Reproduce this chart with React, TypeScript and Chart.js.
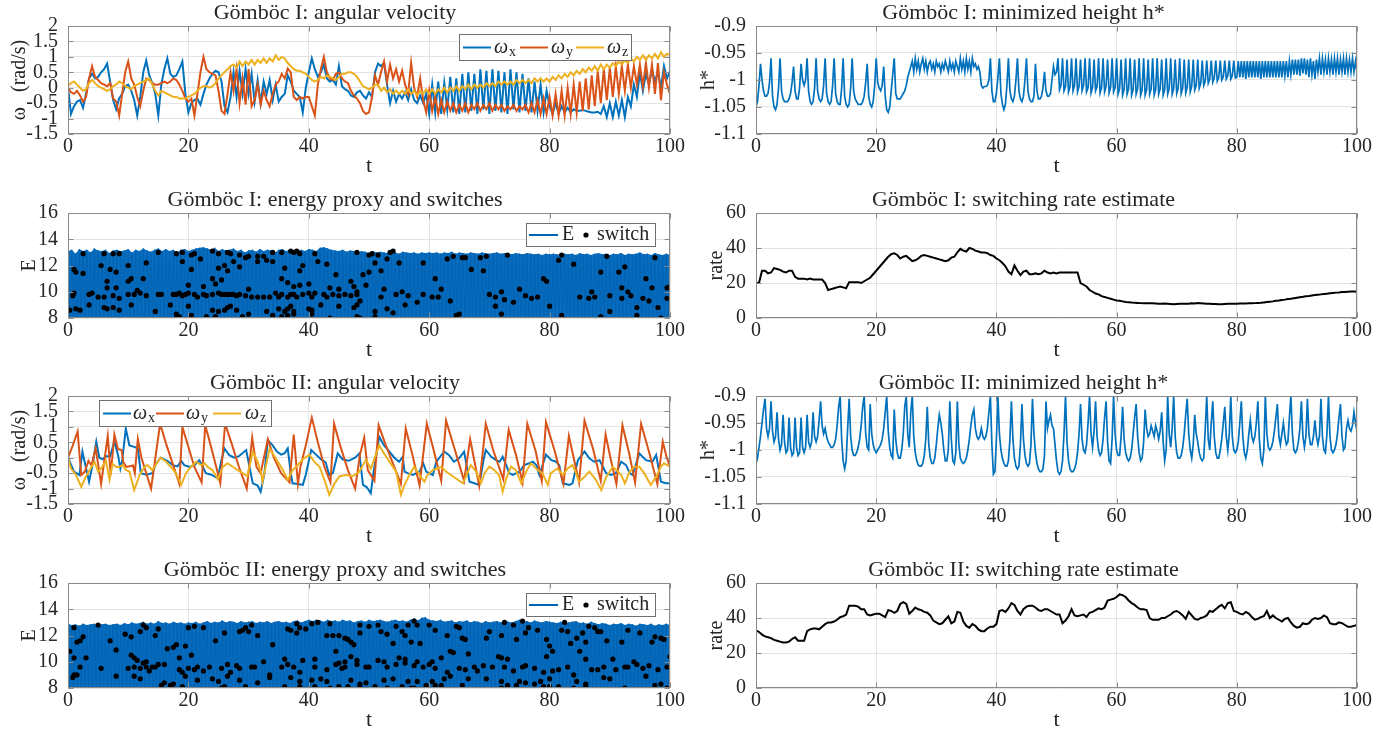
import React, { useEffect, useRef } from 'react';
import { Chart, registerables } from 'chart.js';

Chart.register(...registerables);

const FONT = "'Liberation Serif', 'Times New Roman', serif";
const INK = '#262626';
const GRID = '#e3e3e3';
const FRAME = '#8a8a8a';
const C_BLUE = '#0072BD';
const C_ORANGE = '#D95319';
const C_YELLOW = '#EDB120';
const C_E = '#0064B6';
const C_E_FILL = '#0a6cbc';

// ---------- tick values ----------
const tTicks = [0, 20, 40, 60, 80, 100];
const omegaTicks = [-1.5, -1, -0.5, 0, 0.5, 1, 1.5, 2];
const hTicks = [-1.1, -1.05, -1, -0.95, -0.9];
const eTicks = [8, 10, 12, 14, 16];
const rateTicks = [0, 20, 40, 60];

// ---------- Gömböc I angular velocity (t = 0, 0.5, ..., 100) ----------
const G1_DT = 0.5;
const g1Wx = [
  0, -0.85, -0.6, -0.45, -0.4, -0.65, -0.2, 0.3, 0.45, 0.3, 0.35, 0.5, 0.6, 0.78, 0.2, -0.4, -0.7, -0.35, -0.2, 0.05,
  0.1, -0.1, -0.4, -0.9, -0.3, 0.5, 0.88, 0.4, 0.15, -0.2, -0.9, 0.1, 0.6, 0.95, 0.45, 0.35, 0.4, 0.6, 0.85, -0.2,
  -0.8, -0.5, -0.4, -0.35, -0.55, -0.2, 0.1, 0.3, 0.45, 0.55, 0.5, 0.2, -0.6, -0.8, -0.3, 0.5, -0.3, 0.55, -0.2, 0.6,
  -0.2, 0.45, -0.45, 0.25, -0.5, 0.2, -0.2, 0.25, -0.4, 0.1, -0.45, -0.3, -0.2, 0.4, 0.2, -0.1, -0.2, -0.3, -0.8, 0,
  0.5, 0.95, 0.6, 0.35, 0.5, 0.75, 0.3, 0.2, 0.25, 0.1, 0.7, 0.05, -0.05, -0.1, -0.25, -0.3, -0.15, -0.1, -0.25, -0.35,
  -0.15, -0.3, 0.5, 0.78, 0.7, 0.8, 0.1, -0.5, -0.1, -0.45, -0.2, -0.35, -0.15, -0.4, -0.05, -0.4, -0.5, -0.25, -0.5, -0.2,
  -0.85, 0.1, -0.8, 0.2, -0.85, 0.15, -0.7, 0.35, -0.8, 0.3, -0.85, 0.45, -0.8, 0.5, -0.75, 0.45, -0.85, 0.6, -0.7, 0.55,
  -0.85, 0.6, -0.75, 0.55, -0.8, 0.5, -0.85, 0.6, -0.7, 0.5, -0.8, 0.45, -0.75, 0.3, -0.8, 0.2, -0.75, 0.1, -0.8, -0.1,
  -0.6, -0.85, -0.5, -0.85, -0.6, -0.8, -0.65, -0.8, -0.7, -0.75, -0.75, -0.72, -0.75, -0.78, -0.8, -0.8, -0.78, -0.85, -0.6, -0.95,
  -0.5, -0.95, -0.45, -0.9, -0.4, -0.95, -0.3, -0.6, 0.1, -0.3, 0.5, -0.1, 0.45, 0.1, 0.6, 0.2, 0.5, 0.0, 0.7, 0.3, 0.55,
];
const g1Wy = [
  0, -0.15, -0.2, -0.1, -0.25, -0.45, -0.3, 0.3, 0.7, 0.35, 0.25, 0.15, 0.1, 0.05, 0.15, -0.35, -0.45, -0.9, -0.2, 0.5,
  0.85, 0.3, 0.1, -0.3, -0.6, -0.1, 0.3, 0.25, 0.15, 0.1, 0.1, 0.15, 0.2, 0.15, 0.2, 0.3, 0.25, 0.1, -0.1, -0.35,
  -0.45, -0.35, -0.9, -0.2, 0.5, 1.0, 0.6, 0.5, 0.45, 0.4, -0.1, -0.75, -0.85, -0.2, 0.5, -0.1, 0.6, -0.5, 0.3, -0.55,
  0.6, -0.6, -0.4, 0.1, -0.55, -0.1, -0.4, -0.6, -0.2, 0.1, 0.2, 0.45, 0.3, 0.62, 0.5, -0.3, -0.4, -0.3, -0.35, -0.3,
  -0.3, -0.6, -0.9, 0.1, 0.6, 1.0, 0.5, 0.3, 0.25, 0.45, 0.5, 0.3, 0.2, 0.15, -0.1, -0.25, -0.35, -0.5, -0.75, -0.85,
  -0.8, -0.3, 0.4, 0.1, 0.5, 0.85, 0.2, 0.75, 0.3, 0.6, 0.2, 0.55, 0.1, -0.2, 0.8, 0.0, -0.3, 0.3, -0.4, -0.8,
  -0.1, -0.75, -0.3, -0.85, -0.4, -0.8, -0.45, -0.75, -0.5, -0.8, -0.55, -0.75, -0.5, -0.8, -0.55, -0.7, -0.5, -0.75, -0.55, -0.7,
  -0.5, -0.75, -0.55, -0.7, -0.55, -0.75, -0.6, -0.7, -0.55, -0.75, -0.6, -0.7, -0.55, -0.8, -0.5, -0.8, -0.4, -0.85, -0.35, -0.85,
  -0.3, -0.9, -0.2, -0.9, -0.1, -0.9, 0.0, -0.85, 0.1, -0.8, 0.2, -0.75, 0.3, -0.7, 0.4, -0.6, 0.55, -0.5, 0.6, -0.4,
  0.65, -0.3, 0.7, -0.2, 0.7, -0.1, 0.75, 0.0, 0.7, 0.1, 0.75, 0.05, 0.8, 0.0, 0.75, -0.2, 0.8, -0.4, 0.5, 0.1, -0.2,
];
const g1Wz = [
  0.05, 0.15, 0.2, 0.1, 0.0, -0.1, -0.05, 0.15, 0.25, 0.15, 0.05, 0.0, -0.05, -0.1, -0.05, 0.05, 0.1, 0.2, 0.15, 0.05,
  0.0, -0.05, 0.05, 0.1, 0.15, 0.2, 0.25, 0.3, 0.1, -0.1, -0.25, -0.1, -0.15, -0.2, -0.25, -0.3, -0.3, -0.35, -0.35, -0.35,
  -0.3, -0.25, -0.2, -0.1, 0.0, 0.05, 0.05, 0.0, 0.05, 0.15, 0.3, 0.4, 0.5, 0.6, 0.7, 0.75, 0.65, 0.85, 0.7, 0.85,
  0.75, 0.9, 0.75, 0.9, 0.8, 0.95, 0.8, 0.95, 0.85, 1.05, 0.9, 1.0, 0.95, 0.8, 0.7, 0.6, 0.55, 0.55, 0.5, 0.45,
  0.35, 0.25, 0.2, 0.25, 0.35, 0.3, 0.4, 0.35, 0.3, 0.25, 0.35, 0.45, 0.45, 0.5, 0.5, 0.45, 0.35, 0.2, 0.05, 0.0,
  -0.05, 0.0, 0.1, 0.1, -0.1, 0.0, -0.15, -0.05, -0.2, -0.1, -0.2, -0.1, -0.2, -0.05, -0.2, -0.1, -0.25, -0.1, -0.2, -0.05,
  -0.2, -0.05, -0.2, -0.05, -0.15, 0.0, -0.15, 0.0, -0.1, 0.05, -0.1, 0.05, -0.05, 0.1, -0.05, 0.1, 0.0, 0.1, 0.0, 0.15,
  0.05, 0.15, 0.05, 0.2, 0.1, 0.2, 0.1, 0.2, 0.1, 0.25, 0.15, 0.25, 0.15, 0.25, 0.15, 0.3, 0.2, 0.3, 0.2, 0.3,
  0.2, 0.35, 0.25, 0.4, 0.3, 0.45, 0.35, 0.5, 0.4, 0.55, 0.45, 0.6, 0.5, 0.65, 0.55, 0.7, 0.55, 0.75, 0.6, 0.75,
  0.65, 0.8, 0.7, 0.85, 0.75, 0.9, 0.8, 0.95, 0.85, 1.0, 0.9, 1.05, 0.9, 1.05, 0.95, 1.1, 0.95, 1.15, 1.0, 1.1, 1.05,
];

// ---------- Gömböc II angular velocity ([t, value] samples) ----------
const g2Wx: [number, number][] = [
  [0, 0], [1, -0.45], [1.9, -0.56], [2.4, 0.2], [2.9, -0.25], [3.5, -0.78], [4, -0.3], [4.7, 0.52], [5.2, 0.0], [5.8, -0.05],
  [6.3, 0.05], [7, 0.05], [7.7, 0.52], [8.3, 0.1], [8.7, -0.35], [9, -0.1], [9.6, 0.95], [10.2, 0.4], [11, 0.35], [11.6, 0.3],
  [12.1, -0.5], [13, -0.55], [14, -0.5], [14.6, -0.2], [15.4, 0.0], [16.5, -0.1], [17.4, -0.24], [18.2, -0.28], [18.8, -0.1], [19.3, -0.24],
  [20.2, -0.3], [21, -0.24], [21.8, -0.08], [22.4, -0.3], [22.9, -0.5], [23.8, -0.55], [24.9, -0.67], [25.4, -0.15], [26, 0.3], [26.8, 0.08],
  [27.6, 0.0], [28.4, 0.05], [29.6, 0.25], [30.1, -0.25], [30.7, -0.83], [31.5, -0.9], [32, -1.1], [32.6, -0.55], [33.2, 0.57], [34, 0.4],
  [34.7, 0.2], [35.4, 0.1], [36, 0.15], [36.5, 0.3], [37, -0.5], [37.3, -0.83], [38.2, -0.85], [39, -0.88], [39.5, -0.55], [40.4, 0.25],
  [41.2, 0.1], [42, -0.05], [42.8, -0.15], [43.4, -0.56], [44, -0.5], [44.8, 0.14], [45.6, -0.05], [46.6, -0.1], [47.7, 0.0], [48.4, 0.14],
  [49, -0.88], [49.6, -0.95], [50.3, -1.15], [50.8, -0.4], [51.7, 0.68], [52.5, 0.4], [53.4, 0.2], [54.2, 0.0], [55, -0.13], [55.6, 0.03],
  [55.9, -0.45], [56.4, -0.5], [57.3, -0.56], [58.4, -0.45], [59, -0.18], [59.5, -0.45], [60, -0.5], [60.6, -0.56], [61.2, -0.13], [62, 0.08],
  [62.5, 0.2], [63.3, 0.08], [64.1, -0.13], [64.9, -0.03], [65.8, 0.2], [66.7, -0.78], [67.5, -0.83], [68.3, -0.88], [69.1, 0.0], [69.4, 0.25],
  [70.3, 0.03], [71.1, -0.08], [71.7, -0.13], [72.2, 0.03], [72.8, -0.24], [73.3, -0.5], [73.9, -0.56], [75, -0.45], [75.8, -0.24], [76.6, -0.18],
  [77.2, -0.13], [77.8, -0.24], [78.3, -0.56], [79.4, 0.1], [80.3, -0.08], [81.1, -0.13], [81.6, -0.24], [82.2, -0.83], [83.3, -0.88], [83.8, -0.83],
  [84.7, -0.08], [85.8, 0.2], [86.6, -0.02], [87.4, -0.13], [88.3, -0.08], [89.4, -0.5], [90.2, -0.56], [91, -0.5], [91.9, -0.13], [92.7, -0.24],
  [93.3, -0.5], [93.8, -0.56], [94.9, 0.14], [96, -0.08], [97.1, -0.13], [97.7, 0.09], [98.5, -0.78], [99.3, -0.83], [100, -0.83],
];
const g2Wy: [number, number][] = [
  [0, 0], [0.8, 0.4], [1.6, 0.85], [2.2, -0.56], [2.8, -0.45], [3.4, -0.1], [3.9, -0.25], [4.6, 0.3], [5.5, -0.85], [6.6, 0.7],
  [7.1, -0.56], [7.7, 0.75], [8.3, 0.28], [8.9, 0.25], [9.2, -0.15], [9.7, -0.3], [10.8, -0.25], [11.1, -0.5], [11.6, 0.6], [12.2, 0.0],
  [13.8, -1.0], [15.3, 1.1], [16.3, 0.45], [17.4, -0.2], [18.5, -0.85], [19, 1.0], [20, 0.35], [21, -0.3], [22.2, -0.8], [22.8, 1.05],
  [23.7, 0.4], [24.5, -0.2], [25.3, -0.82], [26.1, 1.1], [27.2, 0.45], [28.4, -0.3], [29.7, -1.0], [30.6, 0.65], [31.3, -0.3], [32, -0.5],
  [33.2, 0.6], [34.2, 0.0], [35.4, -0.5], [36.8, -0.8], [37.5, 0.75], [38.2, -0.85], [38.6, -0.3], [39.5, 0.4], [40.5, 1.3], [41.5, 0.5],
  [42.6, -0.3], [43.6, -0.8], [44.2, 1.1], [45.2, 0.4], [46.5, -0.4], [47.7, -1.0], [48.5, 0.1], [49.2, 0.65], [49.8, -0.4], [50.9, -0.75],
  [51.6, 1.05], [52.8, 0.4], [54, -0.2], [55.3, -0.85], [56.1, 0.95], [57.2, 0.1], [58.4, -0.9], [59.6, 1.1], [60.8, 0.2], [62, -0.75],
  [62.8, 1.2], [64.2, 0.3], [65.8, -0.75], [66.8, 0.6], [67.5, -0.1], [68.3, -0.9], [69.4, 1.1], [70.7, 0.2], [72.3, -0.7], [73.2, 0.9],
  [74.4, 0.1], [75.5, -0.8], [76.3, 1.1], [77.7, 0.2], [78.7, -0.75], [79.4, 1.15], [80.8, 0.25], [82.3, -0.85], [83.2, 0.7], [84, 0.0],
  [84.9, -0.8], [85.8, 1.2], [87.2, 0.3], [88.5, -0.75], [89.3, 0.75], [90.1, 0.0], [91.1, -0.85], [92.1, 1.05], [93.2, 0.15], [94.2, -0.8],
  [95.2, 1.1], [96.5, 0.2], [97.9, -0.85], [98.8, 0.52], [99.4, 0.05], [100, -0.3],
];
const g2Wz: [number, number][] = [
  [0, 0], [0.5, -0.35], [1.3, -0.55], [2.2, -0.94], [3, -0.6], [3.5, -0.43], [4.4, -0.13], [5, -0.45], [5.5, -0.35], [6.3, -0.1],
  [6.9, -0.72], [7.4, -0.2], [8, -0.3], [8.5, -0.3], [9.1, -0.24], [9.6, -0.4], [10.2, -0.45], [11, -1.05], [11.9, -0.56], [12.7, -0.3],
  [13.2, -0.24], [14, -0.4], [14.9, -0.13], [15.4, 0.0], [16.3, -0.13], [17.1, -0.3], [17.9, -0.5], [18.8, -0.88], [19.6, -0.5], [20.4, -0.3],
  [21.3, -0.13], [22.1, -0.24], [22.7, -0.18], [23.2, -0.3], [24, -0.4], [24.9, -0.7], [25.7, -0.3], [26.5, -0.18], [27.4, -0.3], [28.2, -0.4],
  [29, -0.5], [29.8, -0.6], [30.7, 0.2], [31.5, -0.13], [32.1, -0.5], [32.3, -0.78], [32.9, -0.24], [33.5, 0.3], [34.6, -0.05], [35.7, -0.4],
  [36.5, -0.72], [37.3, -0.4], [37.9, -0.3], [39, -0.05], [40.1, 0.1], [40.9, -0.13], [41.8, -0.3], [42.6, -0.72], [43.4, -1.2], [44.3, -0.83],
  [45.1, -0.6], [46.2, -0.56], [47.3, -0.6], [48.4, -0.45], [49, -0.24], [49.5, -0.07], [50.3, -0.35], [51.7, 0.4], [52.5, 0.14], [53.4, -0.13],
  [54.5, -0.45], [55.3, -1.2], [55.9, -0.88], [56.7, -0.56], [57.5, -0.3], [58.4, -0.56], [59.2, -0.78], [59.7, -0.56], [60.6, -0.4], [62, -0.3],
  [62.8, -0.45], [63.9, -0.6], [65.6, -0.83], [66.2, -0.56], [66.9, -0.24], [67.8, -0.45], [68.6, -0.83], [69.2, -0.5], [70, -0.29], [70.8, -0.4],
  [71.6, -0.56], [72.2, -1.1], [72.8, -0.67], [73.6, -0.29], [74.4, -0.4], [75.3, -0.83], [76.1, -0.45], [76.9, -0.18], [78, -0.4], [78.8, -0.5],
  [79.7, -0.88], [80.2, -0.5], [81.3, -0.35], [82.2, -0.56], [83, -0.35], [83.8, -0.24], [84.4, -0.5], [84.9, -0.78], [85.8, -0.62], [86.6, -0.45],
  [87.7, -0.72], [88.6, -1.05], [89.4, -0.62], [90.5, -0.3], [91.1, -0.4], [91.9, -0.56], [92.5, -0.83], [93.3, -0.45], [94.1, -0.29], [94.9, -0.29],
  [95.7, -0.5], [96.8, -0.88], [97.7, -0.62], [98.5, -0.29], [99, -0.18], [100, -0.29],
];

// ---------- minimized height h* (t = 0, 0.25, ..., 100) ----------
const H_DT = 0.25;
const h1 = [
  -1.050, -1.040, -1.010, -0.970, -1.000, -1.020, -1.030, -1.030,
  -1.025, -1.005, -0.960, -1.030, -1.050, -1.055, -1.045, -1.015,
  -0.960, -1.020, -1.035, -1.040, -1.040, -1.040, -1.035, -1.025,
  -1.005, -0.975, -1.020, -1.035, -1.035, -1.015, -0.970, -1.000,
  -1.010, -1.000, -0.960, -1.020, -1.040, -1.045, -1.040, -1.015,
  -0.960, -1.020, -1.035, -1.040, -1.035, -1.010, -0.960, -1.025,
  -1.040, -1.045, -1.040, -1.010, -0.960, -1.025, -1.040, -1.045,
  -1.045, -1.015, -0.960, -1.030, -1.045, -1.050, -1.045, -1.015,
  -0.960, -1.020, -1.035, -1.040, -1.045, -1.045, -1.045, -1.040,
  -1.030, -1.005, -0.970, -1.030, -1.045, -1.050, -1.040, -1.010,
  -0.960, -1.005, -1.015, -1.020, -1.010, -0.975, -1.030, -1.055,
  -1.060, -1.050, -1.020, -0.990, -0.960, -1.025, -1.035, -1.035,
  -1.035, -1.030, -1.025, -1.020, -1.010, -0.995, -0.985, -0.975,
  -0.965, -0.985, -0.960, -0.980, -0.965, -0.985, -0.970, -0.960,
  -0.980, -0.965, -0.985, -0.970, -0.965, -0.980, -0.970, -0.985,
  -0.965, -0.975, -0.970, -0.985, -0.970, -0.980, -0.965, -0.975,
  -0.985, -0.965, -0.980, -0.970, -0.985, -0.965, -0.975, -0.985,
  -0.960, -0.980, -0.965, -0.985, -0.960, -0.980, -0.965, -0.985,
  -0.960, -0.975, -0.970, -0.980, -0.975, -0.985, -1.010, -1.015,
  -1.012, -1.012, -1.010, -1.000, -0.960, -1.020, -1.040, -1.040,
  -1.025, -0.995, -0.960, -1.025, -1.045, -1.055, -1.045, -1.010,
  -0.960, -1.020, -1.035, -1.040, -1.030, -1.000, -0.960, -1.020,
  -1.035, -1.040, -1.030, -1.000, -0.960, -1.020, -1.035, -1.040,
  -1.040, -1.030, -0.970, -1.020, -1.035, -1.035, -1.030, -1.015,
  -0.985, -1.020, -1.030, -1.030, -1.025, -1.000, -0.975, -0.990,
  -0.985, -0.960, -1.018, -1.010, -0.960, -1.020, -1.012, -0.962,
  -1.022, -1.012, -0.960, -1.020, -1.010, -0.960, -1.022, -1.012,
  -0.962, -1.020, -1.010, -0.960, -1.022, -1.014, -0.960, -1.024,
  -1.014, -0.962, -1.020, -1.012, -0.960, -1.024, -1.014, -0.960,
  -1.022, -1.012, -0.962, -1.024, -1.014, -0.960, -1.022, -1.014,
  -0.960, -1.026, -1.016, -0.962, -1.028, -1.018, -0.960, -1.026,
  -1.016, -0.960, -1.028, -1.018, -0.962, -1.026, -1.016, -0.960,
  -1.028, -1.018, -0.960, -1.028, -1.018, -0.962, -1.026, -1.016,
  -0.960, -1.028, -1.018, -0.960, -1.026, -1.016, -0.962, -1.028,
  -1.018, -0.960, -1.026, -1.016, -0.960, -1.026, -1.016, -0.962,
  -1.025, -1.015, -0.960, -1.025, -1.015, -0.962, -1.024, -1.014,
  -0.962, -1.022, -1.012, -0.962, -1.018, -1.010, -0.962, -1.015,
  -1.006, -0.964, -1.010, -1.002, -0.964, -1.006, -0.998, -0.964,
  -1.004, -0.996, -0.964, -1.002, -0.995, -0.964, -1.000, -0.994,
  -0.964, -0.998, -0.992, -0.964, -0.998, -0.992, -0.964, -0.996,
  -0.995, -0.965, -0.995, -0.965, -0.995, -0.965, -0.998, -0.965,
  -0.995, -0.965, -0.995, -0.965, -0.995, -0.965, -0.995, -0.965,
  -0.998, -0.965, -0.995, -0.965, -0.995, -0.965, -0.995, -0.965,
  -0.995, -0.965, -0.995, -0.965, -0.995, -0.965, -0.995, -0.965,
  -0.992, -0.965, -0.995, -0.965, -0.990, -0.962, -0.990, -0.962,
  -0.990, -0.962, -0.992, -0.960, -0.988, -0.960, -0.990, -0.962,
  -0.995, -0.960, -0.990, -0.965, -0.998, -0.962, -0.985, -0.960,
  -0.990, -0.960, -0.985, -0.962, -0.990, -0.960, -0.985, -0.962,
  -0.990, -0.960, -0.985, -0.960, -0.990, -0.962, -0.985, -0.960,
  -0.990, -0.960, -0.985, -0.962, -0.985, -0.960, -0.985, -0.965,
  -0.985,
];
const h2 = [
  -1.025, -1.015, -0.995, -0.975, -0.950, -0.925, -0.905, -0.960,
  -0.975, -0.960, -0.910, -0.965, -0.985, -0.975, -0.930, -0.980,
  -1.000, -0.990, -0.935, -0.985, -1.005, -1.000, -0.940, -0.995,
  -1.010, -1.005, -0.940, -0.995, -1.010, -1.005, -0.940, -0.995,
  -1.005, -0.995, -0.935, -0.985, -0.995, -0.985, -0.930, -0.975,
  -0.985, -0.975, -0.945, -0.910, -0.955, -0.970, -0.960, -0.975,
  -0.985, -0.990, -0.995, -0.995, -0.990, -0.980, -0.955, -0.920,
  -0.900, -0.980, -1.020, -1.035, -1.020, -0.960, -0.905, -0.975,
  -1.000, -1.010, -1.010, -1.005, -0.995, -0.980, -0.955, -0.920,
  -0.900, -0.970, -0.995, -1.000, -0.915, -0.970, -0.990, -1.000,
  -1.005, -1.000, -0.995, -0.990, -0.980, -0.960, -0.930, -0.900,
  -0.965, -0.995, -1.010, -1.015, -0.925, -0.980, -1.005, -1.015,
  -1.015, -1.000, -0.970, -0.920, -0.900, -0.970, -0.995, -0.930,
  -0.900, -0.975, -1.005, -1.020, -1.028, -1.030, -1.030, -1.025,
  -1.010, -0.980, -0.920, -0.990, -1.015, -1.025, -1.025, -1.015,
  -0.990, -0.960, -0.935, -0.950, -0.970, -1.000, -1.020, -1.020,
  -1.000, -0.910, -0.980, -1.020, -1.025, -1.005, -0.910, -0.990,
  -1.015, -1.022, -1.025, -1.022, -1.015, -1.000, -0.980, -0.955,
  -0.935, -0.925, -0.960, -0.975, -0.980, -0.975, -0.960, -0.975,
  -0.980, -0.975, -0.960, -0.930, -0.900, -0.990, -1.045, -1.040,
  -0.980, -0.900, -0.970, -1.000, -1.015, -1.025, -1.030, -1.030,
  -1.020, -0.980, -0.910, -0.980, -1.015, -1.030, -1.035, -1.030,
  -0.990, -0.915, -0.980, -1.010, -1.025, -1.030, -1.025, -0.990,
  -0.905, -0.970, -1.005, -1.025, -1.035, -1.040, -1.040, -1.035,
  -1.010, -0.910, -0.960, -0.945, -0.935, -0.955, -0.960, -0.990,
  -1.020, -1.040, -1.045, -1.040, -1.020, -0.970, -0.900, -0.985,
  -1.020, -1.035, -1.040, -1.040, -1.035, -1.025, -1.005, -0.970,
  -0.915, -0.980, -1.000, -1.005, -0.990, -0.950, -0.900, -0.970,
  -0.995, -0.965, -0.910, -0.975, -1.000, -1.010, -1.005, -0.980,
  -0.940, -0.910, -0.985, -1.020, -1.025, -0.980, -0.900, -0.970,
  -1.000, -1.010, -1.010, -0.975, -0.920, -0.980, -1.005, -1.015,
  -1.020, -1.015, -1.000, -0.970, -0.940, -0.915, -0.975, -1.005,
  -1.020, -1.015, -0.985, -0.925, -0.960, -0.975, -0.970, -0.955,
  -0.965, -0.975, -0.955, -0.965, -0.980, -0.965, -0.930, -0.985,
  -1.020, -1.000, -0.900, -0.970, -0.995, -0.960, -0.900, -0.975,
  -1.005, -1.015, -1.015, -1.010, -0.995, -0.970, -0.935, -0.905,
  -0.970, -1.000, -1.015, -0.990, -0.935, -0.970, -0.985, -1.005,
  -1.015, -1.020, -1.015, -0.960, -0.900, -0.980, -1.000, -0.950,
  -0.910, -0.975, -1.005, -1.015, -1.015, -1.000, -0.980, -0.950,
  -0.920, -0.975, -1.000, -0.970, -0.900, -0.975, -1.000, -1.005,
  -1.000, -0.985, -0.950, -0.910, -0.975, -1.005, -1.015, -1.000,
  -0.970, -0.945, -0.975, -0.985, -0.975, -0.950, -0.910, -0.980,
  -1.015, -1.025, -1.000, -0.900, -0.970, -0.995, -1.000, -0.995,
  -0.985, -0.965, -0.940, -0.915, -0.975, -0.990, -0.970, -0.950,
  -0.975, -0.990, -0.985, -0.940, -0.900, -0.970, -1.000, -1.005,
  -1.000, -0.985, -0.960, -0.910, -0.975, -0.995, -0.975, -0.905,
  -0.970, -0.990, -0.990, -0.975, -0.945, -0.975, -0.990, -0.975,
  -0.905, -0.975, -1.000, -1.005, -0.970, -0.900, -0.975, -1.000,
  -1.005, -1.000, -0.990, -0.970, -0.940, -0.915, -0.975, -1.000,
  -0.995, -0.960, -0.945, -0.960, -0.965, -0.955, -0.930, -0.950,
  -0.965,
];

// ---------- switching rate estimate (t = 0, 0.5, ..., 100) ----------
const RATE_DT = 0.5;
const rate1 = [
  20, 20, 27, 27, 25.5, 26, 28.5, 28, 27.5, 26.5,
  26, 27, 27, 23.5, 22.5, 22.5, 22.5, 22, 22.5, 22,
  22, 22, 22, 20, 16, 16.5, 17, 17.5, 18, 17.5,
  17, 20.5, 20.5, 20.5, 20.5, 20, 21, 22, 23, 25,
  27, 29, 31, 33, 35, 36.5, 37, 36, 34, 35,
  35.5, 34, 32.5, 33, 34, 35.5, 36, 35.5, 35, 34.5,
  34, 33.5, 33, 32.5, 33, 34.5, 35, 37.5, 39.5, 38.5,
  38, 40, 39.5, 38.5, 38, 37.5, 37.5, 37, 36, 35.5,
  34, 33, 31.5, 29.5, 26.5, 25, 30, 27, 24.5, 26.5,
  27, 25, 25, 25.5, 25, 25.5, 27, 26, 25.5, 26,
  25.5, 26, 26, 26, 26, 26, 26, 26, 20, 19,
  18, 16, 15, 14, 13.5, 12.5, 12, 11.5, 11, 10.5,
  10, 9.8, 9.5, 9.2, 9, 8.8, 8.7, 8.6, 8.5, 8.4,
  8.4, 8.4, 8.4, 8.3, 8.2, 8.2, 8.3, 8.2, 8.0, 7.8,
  8.0, 8.2, 8.2, 8.1, 8.2, 8.4, 8.3, 8.5, 8.4, 8.3,
  8.2, 8.1, 8.0, 8.0, 7.9, 7.9, 8.0, 8.1, 8.1, 8.1,
  8.2, 8.3, 8.3, 8.3, 8.4, 8.4, 8.5, 8.6, 8.7, 8.9,
  9.1, 9.3, 9.5, 9.8, 10.0, 10.3, 10.5, 10.8, 11.0, 11.3,
  11.6, 11.9, 12.1, 12.4, 12.6, 12.9, 13.1, 13.3, 13.5, 13.7,
  13.9, 14.1, 14.3, 14.5, 14.6, 14.8, 14.9, 15.0, 15.1, 15.2,
  15.0,
];
const rate2 = [
  33, 32, 30.5, 29.5, 29, 28.5, 27.5, 27, 26.5, 26,
  26, 26.5, 28, 29, 27, 27, 27, 32.5, 33.5, 34,
  34, 33.5, 35, 36.5, 37.5, 37.5, 38, 39, 40.5, 41,
  42, 47, 47, 47, 46.5, 45, 45, 42, 41.5, 42,
  42.5, 42.5, 41.5, 40.5, 44.5, 44, 43, 44, 48, 49,
  48, 42.5, 44, 46, 45, 44.5, 43.5, 43, 41.5, 38.5,
  37.5, 36.5, 37, 39, 41, 37, 38, 43.5, 43, 38,
  35.5, 34.5, 36.5, 35.5, 33.5, 32.5, 32.5, 34, 35, 35,
  36.5, 44, 44.5, 43.5, 45.5, 48.5, 47.5, 44, 42, 45,
  46.5, 47, 47, 46, 44.5, 44, 45, 45, 44, 43,
  42, 42, 37, 38.5, 41, 45, 41.5, 41, 41.5, 42,
  40.5, 43, 43.5, 44.5, 45.5, 45, 46, 50, 50.5, 51,
  52, 53.5, 53, 52, 50, 48.5, 47.5, 46, 45, 45,
  44.5, 40, 39, 39, 39, 40, 40, 41, 42, 43.5,
  44, 43, 41.5, 39.5, 43.5, 41.5, 39.5, 39, 40, 40.5,
  41.5, 44, 43.5, 45, 46.5, 47.5, 45.5, 48.5, 49, 44,
  43.5, 42.5, 42, 43.5, 42.5, 40.5, 39, 39.5, 40.5, 41,
  44, 40, 41.5, 40, 39, 38, 39.5, 40, 37.5, 35.5,
  34.5, 35, 37, 36.5, 37, 39, 40, 39.5, 40, 41.5,
  40.5, 37, 36.5, 36.5, 37.5, 37, 36, 35, 35, 35.5,
  36,
];

// ---------- energy proxy: peak of each oscillation (every 0.625 t) and common trough ----------
const E_DT = 0.625;
const E_TROUGH = 7.6;
const e1Peaks = [
  13.1, 13.2, 12.9, 13.25, 13.1, 13.2, 13.0, 13.3, 13.15, 13.1, 13.2, 12.95, 13.15, 13.2, 13.1, 13.15, 13.25, 13.0, 13.2, 13.1, 13.3, 13.15, 13.05, 13.2, 13.3, 13.1, 13.25, 13.1, 13.2, 13.0, 13.2, 13.25, 13.1,
  13.2, 13.3, 13.35, 13.4, 13.3, 13.2, 13.35, 13.1, 13.25, 13.15, 13.2, 13.3, 13.1, 13.2, 13.0, 13.15, 13.2, 13.05, 13.25, 13.1, 13.2, 13.15, 13.0, 13.2, 13.25, 13.1, 13.2, 13.05, 13.15, 13.2, 13.1, 13.25,
  13.2, 13.1, 13.35, 13.4, 13.3, 13.2, 13.15, 13.1, 13.2, 13.05, 13.15, 13.1, 13.0, 13.1, 13.05, 12.95, 13.1, 13.0, 13.05, 13.0, 12.95, 13.05, 13.0, 12.9, 13.05, 13.0, 12.95, 13.0, 12.9, 13.0, 12.95, 13.0,
  12.95, 13.0, 12.9, 13.0, 12.95, 13.05, 12.9, 13.0, 12.95, 12.9, 13.0, 12.95, 12.9, 13.0, 12.95, 12.9, 12.95, 13.0, 12.9, 12.95, 12.9, 12.85, 12.95, 12.9, 12.85, 12.95, 12.9, 12.85, 12.9, 12.8, 12.9, 12.85,
  12.9, 12.85, 12.8, 12.9, 12.85, 12.9, 12.8, 12.95, 12.85, 12.9, 12.8, 12.9, 12.95, 12.85, 12.9, 12.8, 12.9, 12.85, 12.95, 12.8, 12.9, 12.85, 12.9, 13.0, 12.85, 12.9, 12.8, 12.95, 12.85, 12.8, 12.9, 12.8,
];
const e2Peaks = [
  12.9, 12.8, 12.85, 12.75, 12.9, 12.8, 12.85, 12.9, 12.75, 12.85, 12.9, 12.8, 12.85, 12.9, 12.8, 12.95, 12.85, 13.0, 12.9, 12.95, 13.05, 12.9, 13.0, 12.9, 13.1, 12.95, 13.0, 12.9, 13.05, 12.95, 13.0, 12.9, 13.0,
  12.95, 13.05, 12.9, 13.0, 13.1, 12.95, 13.05, 13.0, 13.15, 13.0, 13.1, 13.05, 12.95, 13.1, 13.0, 13.05, 13.1, 12.95, 13.05, 13.0, 13.1, 12.95, 13.05, 13.1, 13.0, 13.05, 12.95, 13.1, 13.15, 13.0, 13.1, 13.2,
  13.1, 13.2, 13.15, 13.05, 13.2, 13.1, 13.15, 13.05, 13.2, 13.1, 13.15, 13.0, 13.1, 13.15, 13.05, 13.2, 13.1, 13.15, 13.2, 13.1, 13.05, 13.15, 13.2, 13.1, 13.15, 13.05, 13.2, 13.3, 13.15, 13.35, 13.4, 13.2,
  13.15, 13.1, 13.2, 13.05, 13.1, 13.15, 13.0, 13.1, 13.05, 13.15, 13.0, 13.1, 13.05, 12.95, 13.1, 13.0, 13.05, 13.1, 13.0, 13.15, 13.05, 13.0, 13.1, 13.2, 13.05, 13.1, 13.0, 13.15, 13.05, 13.0, 13.1, 13.05,
  13.0, 12.95, 13.05, 12.9, 13.0, 13.05, 13.1, 12.95, 13.0, 12.9, 13.05, 12.95, 12.85, 12.95, 12.9, 12.8, 12.9, 12.85, 12.95, 12.8, 12.9, 12.85, 12.75, 12.9, 12.85, 12.8, 12.9, 12.75, 12.85, 12.8, 12.9, 12.8,
];

// ---------- switch events [t, E] ----------
const sw1: [number, number][] = [
  [2.5, 12.9], [6, 12.9], [7.5, 12.9], [8.5, 12.9], [15, 13.0], [18, 12.9], [19, 13.0], [20.5, 12.8], [21, 12.9], [24, 13.1],
  [25, 12.9], [26.5, 13.0], [27, 12.9], [28.5, 12.8], [29.5, 12.6], [30, 12.7], [31.5, 12.7], [32.5, 12.7], [34, 13.0], [35.5, 13.0],
  [37, 13.1], [37.5, 13.0], [38, 13.1], [38.5, 12.9], [41, 12.9], [48, 13.0], [50, 12.8], [50.5, 12.9], [51.5, 12.8], [53.5, 13.0],
  [54, 13.1], [64, 12.7], [66, 12.6], [68.5, 12.6], [69.5, 12.7], [73, 12.8], [82, 12.8], [89.5, 12.7], [97.5, 12.6],
  [1, 11.7], [1.3, 11.5], [2.5, 11.4], [5.5, 12.0], [6.5, 10.8], [7, 11.7], [8, 11.5], [10, 12.0], [10.5, 11.0], [12.5, 11.0],
  [13, 12.2], [19, 12.3], [20.5, 11.7], [22, 12.5], [24, 11.0], [25, 11.8], [26, 12.0], [26.5, 11.6], [27.5, 12.3], [28.5, 11.9],
  [31.5, 12.3], [33, 12.4], [34, 12.3], [36, 11.8], [38.5, 11.6], [39, 12.0], [41.5, 12.3], [43, 12.1], [44.5, 11.3], [47, 10.8],
  [49, 11.3], [50, 11.5], [51, 12.2], [52, 11.6], [53, 12.5], [55, 12.2], [59, 12.2], [61, 11.0], [63, 12.5], [65.5, 12.6],
  [67, 11.7], [69, 11.6], [75, 10.2], [79, 11.0], [81.5, 12.4], [84, 12.1], [88.5, 11.5], [91.5, 11.5], [92.5, 11.9], [96, 11.0],
  [6.5, 10.3], [8, 10.3], [10, 10.8], [11.5, 10.1], [20, 10.5], [22.5, 10.4], [24.5, 10.6], [25.5, 10.9], [30, 10.2], [35.5, 11.0],
  [36.5, 10.7], [37.5, 10.4], [38.5, 10.5], [40, 10.6], [43.5, 10.3], [45, 10.2], [47.5, 10.4], [48, 10.0], [49.5, 10.5], [52.5, 10.2],
  [55.5, 10.0], [62, 10.2], [72, 10.0], [79.5, 10.8], [87, 10.0], [92, 10.3], [93, 10.0], [97, 10.3], [99.5, 10.3], [100, 10.4],
  [0.8, 9.7], [1, 9.9], [3.5, 9.8], [4, 9.9], [5, 9.6], [6, 9.6], [7.5, 9.7], [8.5, 9.5], [10, 9.8], [11, 9.8],
  [12, 9.9], [13, 9.7], [15, 9.8], [15.5, 9.8], [17.5, 9.8], [18, 9.8], [18.5, 9.9], [19, 9.7], [19.5, 9.8], [20, 9.9],
  [21, 9.8], [21.5, 9.6], [22.5, 9.8], [23, 9.7], [24, 9.8], [25, 9.9], [25.5, 9.8], [26, 9.8], [26.5, 9.8], [27, 9.8],
  [27.5, 9.8], [28, 9.7], [28.5, 9.8], [29.5, 9.7], [30.5, 9.6], [31.5, 9.6], [32.5, 9.6], [33.5, 9.6], [34.5, 9.9], [35, 9.6],
  [35.5, 9.8], [36.5, 9.6], [37, 9.8], [37.5, 9.8], [38, 9.6], [39, 9.8], [40, 9.9], [40.5, 9.6], [41, 9.9], [42.5, 9.8],
  [43, 9.6], [44, 9.8], [45, 9.7], [46, 9.8], [47, 9.7], [48, 9.8], [48.5, 9.3], [52, 9.6], [54.5, 9.8], [56.5, 9.7],
  [59, 9.8], [60.5, 9.6], [61.5, 9.6], [70, 9.8], [71, 9.6], [72.5, 9.4], [76, 9.7], [77, 9.5], [78, 9.6], [85, 9.6],
  [86.5, 9.5], [87.5, 9.6], [90, 9.7], [92, 9.5], [93.5, 9.7], [95.5, 9.5], [96.5, 9.3],
  [0.3, 8.6], [1.3, 8.7], [2, 8.6], [3.5, 9.0], [6, 8.8], [6.5, 8.7], [7.5, 8.8], [8.5, 8.6], [10.5, 9.0], [14.5, 8.5],
  [17, 9.0], [18, 8.3], [20, 8.9], [24, 8.6], [25, 8.5], [26, 8.6], [26.5, 8.8], [27, 8.9], [28, 8.6], [30, 8.3],
  [33, 8.5], [35, 8.7], [36, 8.5], [36.5, 8.7], [37, 8.9], [37.5, 8.5], [40, 8.7], [40.5, 8.6], [42, 9.0], [45, 8.9],
  [47.5, 8.8], [48, 9.0], [51, 8.5], [53, 8.7], [54, 8.4], [56, 9.0], [58, 9.2], [63.5, 9.3], [71, 8.9], [74, 9.2],
  [80, 8.9], [90, 8.5], [94.5, 8.8], [98, 8.8], [99.5, 9.5],
  [18, 8.0], [18.5, 8.1], [20.5, 8.2], [23, 8.1], [24.5, 8.1], [29, 8.1], [34, 8.2], [35.5, 8.1], [36.5, 8.2], [37.5, 8.3],
  [40.5, 8.3], [43.5, 8.0], [48, 8.1], [48.5, 8.0], [51, 8.1], [64.5, 8.2], [65, 8.3], [72, 8.3], [82, 8.2], [88.5, 8.1],
  [94.5, 8.2], [98.5, 8.0],
];
const sw2: [number, number][] = [
  [1, 12.6], [5, 12.8], [12.5, 12.8], [13, 12.6], [15, 12.5], [20, 12.6], [21, 12.7], [22.5, 12.6], [29, 12.4], [29.5, 12.6],
  [30.5, 12.8], [38, 12.9], [38.5, 12.6], [40.5, 12.9], [41.5, 13.0], [43.5, 12.9], [48.5, 12.8], [50, 12.7], [51.5, 12.8], [54.5, 12.7],
  [56.5, 12.8], [57.5, 13.1], [58, 12.8], [60, 12.8], [64.5, 12.7], [65, 12.6], [72.5, 13.0], [74, 12.8], [75.5, 13.1], [76.5, 12.6],
  [78, 12.4], [82.5, 13.0], [83, 12.3], [86.5, 12.7], [87.5, 12.6], [93, 12.4], [97.5, 11.9],
  [1.5, 11.5], [2, 11.6], [2.5, 11.9], [7, 11.6], [9.5, 12.1], [10.5, 11.9], [12, 12.3], [14.5, 12.0], [16.5, 11.0], [17.5, 11.1],
  [18, 11.3], [19.5, 11.2], [24.5, 11.6], [26, 12.2], [28.5, 12.3], [30, 12.3], [31.5, 12.0], [34, 11.3], [36.5, 12.5], [37, 12.4],
  [38, 12.2], [39.5, 12.5], [43, 12.0], [44, 12.0], [45, 12.0], [46, 11.8], [46.5, 11.7], [47, 11.5], [47.5, 11.3], [48.5, 12.2],
  [52, 12.3], [53, 12.1], [54, 11.4], [55.5, 12.3], [56, 12.0], [57, 11.5], [58.5, 11.4], [61, 12.4], [63, 12.0], [65.5, 11.8],
  [66, 11.7], [69.5, 11.8], [70, 12.3], [72, 12.0], [74.5, 11.7], [76, 12.2], [79.5, 11.7], [80, 11.2], [82, 12.4], [83.5, 11.4],
  [84.5, 11.8], [85.5, 12.2], [86, 11.5], [88, 12.3], [88.5, 12.3], [89.5, 11.6], [92, 11.5], [95, 12.2], [97, 11.5], [98.5, 11.8],
  [99, 11.7],
  [0.3, 10.8], [1, 10.3], [3, 10.3], [8, 10.9], [10.5, 10.5], [11, 10.3], [11.5, 10.1], [12.5, 9.9], [13, 10.0], [15, 9.8],
  [18.5, 10.3], [20.5, 10.5], [26.5, 9.8], [32.5, 10.0], [36, 10.2], [39, 10.1], [41, 10.2], [44.5, 10.8], [45, 9.9], [46, 10.0],
  [47, 10.4], [48, 10.1], [51.5, 10.1], [52.5, 10.0], [55, 10.3], [56, 10.2], [58, 10.0], [60.5, 10.0], [62, 10.3], [63.5, 10.8],
  [64, 10.7], [66.5, 10.6], [71.5, 10.4], [72, 10.3], [73, 10.2], [79.5, 10.4], [80.5, 10.8], [85, 10.8], [86, 10.2], [90.5, 10.2],
  [94, 10.0], [100, 10.4],
  [1, 9.0], [2, 9.6], [5.5, 9.5], [10, 9.5], [11, 9.6], [12, 9.5], [13, 9.6], [13.5, 9.3], [14, 9.6], [14.5, 9.6],
  [16, 9.8], [18.5, 9.4], [19, 9.2], [20, 9.5], [21, 9.4], [21.5, 9.6], [22.5, 9.3], [23.5, 9.6], [25.5, 9.5], [27, 9.2],
  [28, 9.7], [28.5, 9.5], [30.5, 9.6], [31, 9.6], [33.5, 9.0], [35.5, 9.6], [36.5, 9.8], [37.5, 9.6], [38.5, 9.2], [41, 9.6],
  [43, 9.4], [44.5, 9.8], [45.5, 9.5], [46, 9.6], [48, 9.8], [49.5, 9.6], [50, 9.6], [53, 9.6], [54.5, 9.8], [56, 9.9],
  [57.5, 9.7], [59, 9.6], [60, 9.8], [61, 9.5], [63, 9.2], [65, 9.5], [66, 9.4], [67.5, 9.6], [68, 9.3], [69, 9.7],
  [70.5, 9.6], [72.5, 9.6], [74, 9.3], [75.5, 9.6], [76, 9.7], [77.5, 9.5], [79, 9.2], [80.5, 9.3], [81.5, 9.4], [83, 9.6],
  [84, 9.0], [87, 9.4], [88, 9.4], [89, 9.6], [91, 9.4], [92.5, 9.6], [93, 9.6], [94.5, 9.8], [95.5, 9.5], [96.5, 9.7],
  [98, 9.4], [99.5, 9.6],
  [0.8, 8.8], [1.5, 9.0], [8, 8.9], [11, 8.9], [12, 8.7], [16, 8.4], [17.5, 8.3], [19.5, 8.9], [21.5, 8.6], [24, 8.7],
  [25, 8.5], [26.5, 8.9], [28.5, 8.6], [31.5, 8.4], [33.5, 8.8], [37, 8.8], [38.5, 8.5], [40.5, 8.6], [42, 8.7], [43, 8.5],
  [47, 8.6], [48.5, 8.3], [49.5, 8.4], [52.5, 8.6], [54, 8.7], [56.5, 8.5], [58, 8.5], [60.5, 8.5], [62.5, 8.7], [63.5, 8.9],
  [66.5, 8.7], [69.5, 8.7], [72, 8.5], [75, 8.5], [76, 8.4], [77.5, 8.3], [78.5, 8.5], [80, 8.7], [84.5, 8.5], [86, 8.3],
  [89, 8.8], [90, 8.7], [96, 8.9], [98.5, 8.3],
  [15.5, 8.2], [17, 8.2], [19, 8.1], [25.5, 8.0], [26, 8.1], [29.5, 8.1], [36, 8.1], [38.5, 8.1], [41, 8.1], [43.5, 8.0],
  [45, 8.1], [46.5, 8.1], [48.5, 8.1], [51, 8.1], [53, 8.0], [55.5, 8.1], [57, 8.0], [57.5, 8.0], [59.5, 8.2], [61, 8.2],
  [62, 8.2], [65.5, 8.2], [72, 8.0], [73, 8.2], [74.5, 8.2], [79, 8.1], [80, 8.1], [81.5, 8.1], [84, 8.0], [86, 8.1],
  [92.5, 8.0], [97.5, 8.2], [99.5, 8.0],
];

// ---------- helpers that turn the arrays into Chart.js points ----------
const uniform = (vals: number[], dt: number) => vals.map((y, i) => ({ x: Math.round(i * dt * 1000) / 1000, y }));
const pairs = (p: [number, number][]) => p.map(([x, y]) => ({ x, y }));
const zigzag = (peaks: number[], dt: number, trough: number) => {
  const out: { x: number; y: number }[] = [];
  peaks.forEach((p, i) => {
    out.push({ x: i * dt, y: p });
    if (i < peaks.length - 1) out.push({ x: (i + 0.5) * dt, y: trough });
  });
  return out;
};

const lineDs = (label: string, data: any[], color: string, width: number, order = 0) => ({
  label, data, borderColor: color, backgroundColor: color, borderWidth: width,
  pointRadius: 0, tension: 0, fill: false, order,
});

const energyDatasets = (peaks: number[], sw: [number, number][]) => [
  { label: 'E envelope', data: uniform(peaks, E_DT), borderWidth: 0, borderColor: 'rgba(0,0,0,0)', backgroundColor: C_E_FILL, pointRadius: 0, tension: 0, fill: 'start', order: 3 },
  lineDs('E', zigzag(peaks, E_DT, E_TROUGH), C_E, 1, 2),
  { label: 'switch', data: pairs(sw), showLine: false, pointRadius: 2.6, pointBorderWidth: 0, pointBackgroundColor: '#000', borderColor: '#000', order: 1 },
];

// ---------- legend drawing ----------
type LegendItem = { kind: 'line' | 'dot'; color: string; x0: number; x1?: number; text: string; sub?: string; italic?: boolean; tx: number };
type LegendSpec = { x: number; y: number; w: number; h: number; items: LegendItem[] };

const legendPlugin = (L?: LegendSpec) => ({
  id: 'boxLegend',
  afterDraw(chart: any) {
    if (!L) return;
    const ctx = chart.ctx;
    ctx.save();
    ctx.fillStyle = '#ffffff';
    ctx.fillRect(L.x, L.y, L.w, L.h);
    ctx.strokeStyle = '#6f6f6f';
    ctx.lineWidth = 1;
    ctx.strokeRect(L.x + 0.5, L.y + 0.5, L.w, L.h);
    const cy = L.y + L.h / 2 + 0.5;
    for (const it of L.items) {
      if (it.kind === 'line') {
        ctx.strokeStyle = it.color;
        ctx.lineWidth = 2;
        ctx.beginPath();
        ctx.moveTo(it.x0, cy);
        ctx.lineTo(it.x1 ?? it.x0 + 28, cy);
        ctx.stroke();
      } else {
        ctx.fillStyle = it.color;
        ctx.beginPath();
        ctx.arc(it.x0, cy, 2.6, 0, Math.PI * 2);
        ctx.fill();
      }
      ctx.fillStyle = INK;
      ctx.textBaseline = 'middle';
      ctx.textAlign = 'left';
      ctx.font = `${it.italic ? 'italic ' : ''}20px ${FONT}`;
      ctx.fillText(it.text, it.tx, cy);
      if (it.sub) {
        const w = ctx.measureText(it.text).width;
        ctx.font = `14px ${FONT}`;
        ctx.fillText(it.sub, it.tx + w + 1, cy + 5);
      }
    }
    ctx.restore();
  },
});

// box around the axes with inward tick marks
const framePlugin = {
  id: 'frame',
  afterDatasetsDraw(chart: any) {
    const { ctx, chartArea: a, scales } = chart;
    ctx.save();
    ctx.strokeStyle = FRAME;
    ctx.lineWidth = 1;
    const L = Math.round(a.left) + 0.5, R = Math.round(a.right) - 0.5;
    const T = Math.round(a.top) + 0.5, B = Math.round(a.bottom) - 0.5;
    ctx.strokeRect(L, T, R - L, B - T);
    ctx.beginPath();
    for (const t of scales.x.ticks) {
      const px = Math.round(scales.x.getPixelForValue(t.value)) + 0.5;
      ctx.moveTo(px, B); ctx.lineTo(px, B - 5);
      ctx.moveTo(px, T); ctx.lineTo(px, T + 5);
    }
    for (const t of scales.y.ticks) {
      const py = Math.round(scales.y.getPixelForValue(t.value)) + 0.5;
      ctx.moveTo(L, py); ctx.lineTo(L + 5, py);
      ctx.moveTo(R, py); ctx.lineTo(R - 5, py);
    }
    ctx.stroke();
    ctx.restore();
  },
};

// ---------- panel specs ----------
type PanelSpec = {
  key: string; left: number; top: number; w: number; plotH: number; axisW: number; padRight: number;
  title: string; yMin: number; yMax: number; yTicks: number[]; yTitle: string; yTitlePad: number;
  datasets: any[]; legend?: LegendSpec;
};

const TITLE_BLOCK = 26;
const XAXIS_H = 45;
const ROW_TOP = [26, 213, 396, 583];
const ROW_H = [108, 105, 108, 105];
const LEFT_COL = { left: 0, w: 690, axisW: 68, padRight: 20 };
const RIGHT_COL = { left: 690, w: 690, axisW: 66, padRight: 23 };

const omegaLegend = (x: number, y: number, lx: number[], tx: number[]): LegendSpec => ({
  x, y, w: 172, h: 26,
  items: [
    { kind: 'line', color: C_BLUE, x0: lx[0], x1: lx[0] + 28, text: 'ω', sub: 'x', italic: true, tx: tx[0] },
    { kind: 'line', color: C_ORANGE, x0: lx[1], x1: lx[1] + 28, text: 'ω', sub: 'y', italic: true, tx: tx[1] },
    { kind: 'line', color: C_YELLOW, x0: lx[2], x1: lx[2] + 28, text: 'ω', sub: 'z', italic: true, tx: tx[2] },
  ],
});
const energyLegend: LegendSpec = {
  x: 526, y: 36, w: 129, h: 23,
  items: [
    { kind: 'line', color: C_E, x0: 529, x1: 558, text: 'E', tx: 562 },
    { kind: 'dot', color: '#000000', x0: 586, text: 'switch', tx: 597 },
  ],
};

const specs: PanelSpec[] = [
  {
    key: 'g1w', ...LEFT_COL, top: ROW_TOP[0] - TITLE_BLOCK, plotH: ROW_H[0],
    title: 'Gömböc I: angular velocity', yMin: -1.5, yMax: 2, yTicks: omegaTicks, yTitle: 'ω   (rad/s)', yTitlePad: 8,
    datasets: [
      lineDs('ωx', uniform(g1Wx, G1_DT), C_BLUE, 2, 3),
      lineDs('ωy', uniform(g1Wy, G1_DT), C_ORANGE, 2, 2),
      lineDs('ωz', uniform(g1Wz, G1_DT), C_YELLOW, 2, 1),
    ],
    legend: omegaLegend(459, 34, [463, 520, 576], [494, 551, 607]),
  },
  {
    key: 'g1h', ...RIGHT_COL, top: ROW_TOP[0] - TITLE_BLOCK, plotH: ROW_H[0],
    title: 'Gömböc I: minimized height h*', yMin: -1.1, yMax: -0.9, yTicks: hTicks, yTitle: 'h*', yTitlePad: 7,
    datasets: [lineDs('h*', uniform(h1, H_DT), C_BLUE, 1.7)],
  },
  {
    key: 'g1e', ...LEFT_COL, top: ROW_TOP[1] - TITLE_BLOCK, plotH: ROW_H[1],
    title: 'Gömböc I: energy proxy and switches', yMin: 8, yMax: 16, yTicks: eTicks, yTitle: 'E', yTitlePad: 18,
    datasets: energyDatasets(e1Peaks, sw1),
    legend: energyLegend,
  },
  {
    key: 'g1r', ...RIGHT_COL, top: ROW_TOP[1] - TITLE_BLOCK, plotH: ROW_H[1],
    title: 'Gömböc I: switching rate estimate', yMin: 0, yMax: 60, yTicks: rateTicks, yTitle: 'rate', yTitlePad: 15,
    datasets: [lineDs('rate', uniform(rate1, RATE_DT), '#000000', 2)],
  },
  {
    key: 'g2w', ...LEFT_COL, top: ROW_TOP[2] - TITLE_BLOCK, plotH: ROW_H[2],
    title: 'Gömböc II: angular velocity', yMin: -1.5, yMax: 2, yTicks: omegaTicks, yTitle: 'ω   (rad/s)', yTitlePad: 8,
    datasets: [
      lineDs('ωx', pairs(g2Wx), C_BLUE, 2, 3),
      lineDs('ωy', pairs(g2Wy), C_ORANGE, 2, 2),
      lineDs('ωz', pairs(g2Wz), C_YELLOW, 2, 1),
    ],
    legend: omegaLegend(99, 30, [103, 156, 213], [133, 186, 245]),
  },
  {
    key: 'g2h', ...RIGHT_COL, top: ROW_TOP[2] - TITLE_BLOCK, plotH: ROW_H[2],
    title: 'Gömböc II: minimized height h*', yMin: -1.1, yMax: -0.9, yTicks: hTicks, yTitle: 'h*', yTitlePad: 7,
    datasets: [lineDs('h*', uniform(h2, H_DT), C_BLUE, 1.7)],
  },
  {
    key: 'g2e', ...LEFT_COL, top: ROW_TOP[3] - TITLE_BLOCK, plotH: ROW_H[3],
    title: 'Gömböc II: energy proxy and switches', yMin: 8, yMax: 16, yTicks: eTicks, yTitle: 'E', yTitlePad: 18,
    datasets: energyDatasets(e2Peaks, sw2),
    legend: energyLegend,
  },
  {
    key: 'g2r', ...RIGHT_COL, top: ROW_TOP[3] - TITLE_BLOCK, plotH: ROW_H[3],
    title: 'Gömböc II: switching rate estimate', yMin: 0, yMax: 60, yTicks: rateTicks, yTitle: 'rate', yTitlePad: 15,
    datasets: [lineDs('rate', uniform(rate2, RATE_DT), '#000000', 2)],
  },
];

const fmt = (v: number) => String(Math.round(v * 1000) / 1000);

function buildConfig(s: PanelSpec): any {
  return {
    type: 'line',
    data: { datasets: s.datasets },
    options: {
      responsive: false,
      animation: false,
      devicePixelRatio: 1,
      events: [],
      layout: { padding: { left: 0, right: s.padRight, top: 0, bottom: 0 } },
      plugins: {
        legend: { display: false },
        tooltip: { enabled: false },
        title: {
          display: true, text: s.title, color: INK,
          font: { family: FONT, size: 22, weight: 'normal', lineHeight: 1.1 },
          padding: { top: 1.3, bottom: 0.5 },
        },
      },
      scales: {
        x: {
          type: 'linear', min: 0, max: 100,
          afterBuildTicks: (sc: any) => { sc.ticks = tTicks.map((v) => ({ value: v })); },
          afterFit: (sc: any) => { sc.height = XAXIS_H; },
          grid: { color: GRID, lineWidth: 1, drawTicks: false },
          border: { display: false },
          ticks: { color: INK, font: { family: FONT, size: 20 }, padding: 1, maxRotation: 0, autoSkip: false, callback: fmt },
          title: { display: true, text: 't', color: INK, font: { family: FONT, size: 22, lineHeight: 1.2 }, padding: { top: 0, bottom: 0 } },
        },
        y: {
          type: 'linear', min: s.yMin, max: s.yMax,
          afterBuildTicks: (sc: any) => { sc.ticks = s.yTicks.map((v) => ({ value: v })); },
          afterFit: (sc: any) => { sc.width = s.axisW; },
          grid: { color: GRID, lineWidth: 1, drawTicks: false },
          border: { display: false },
          ticks: { color: INK, font: { family: FONT, size: 20 }, padding: 10, autoSkip: false, callback: fmt },
          title: {
            display: true, text: s.yTitle, color: INK,
            font: { family: FONT, size: 20, lineHeight: 1.2 },
            padding: { top: s.yTitlePad, bottom: 0 },
          },
        },
      },
    },
    plugins: [framePlugin, legendPlugin(s.legend)],
  };
}

function Panel({ spec }: { spec: PanelSpec }) {
  const ref = useRef<HTMLCanvasElement>(null);
  const h = TITLE_BLOCK + spec.plotH + XAXIS_H;
  useEffect(() => {
    if (!ref.current) return;
    const chart = new Chart(ref.current, buildConfig(spec));
    return () => chart.destroy();
  }, [spec]);
  return (
    <canvas
      ref={ref}
      width={spec.w}
      height={h}
      style={{ position: 'absolute', left: spec.left, top: spec.top, width: spec.w, height: h, display: 'block' }}
    />
  );
}

export default function App() {
  return (
    <div style={{ position: 'absolute', left: 0, top: 0, width: 1380, height: 737, background: '#ffffff', overflow: 'hidden' }}>
      {specs.map((s) => (
        <Panel key={s.key} spec={s} />
      ))}
    </div>
  );
}
